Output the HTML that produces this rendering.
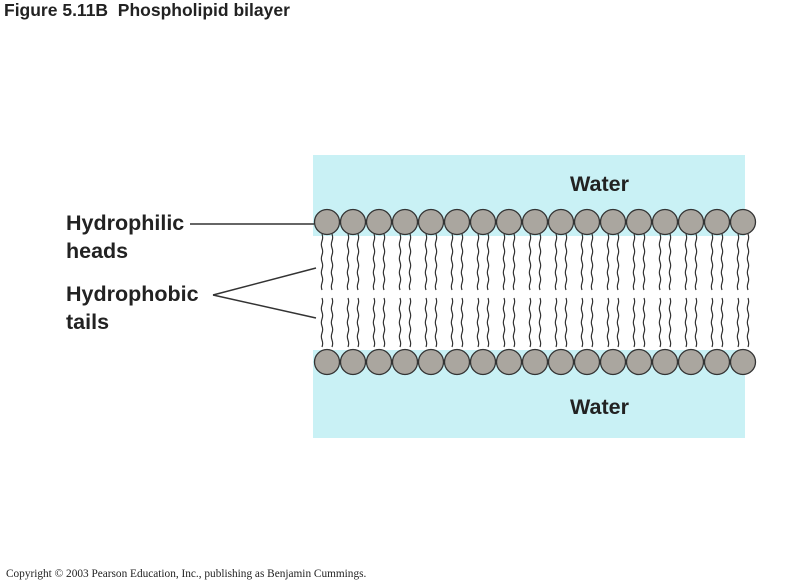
<!DOCTYPE html>
<html><head><meta charset="utf-8"><style>
html,body{margin:0;padding:0;background:#fff;}
body{width:800px;height:584px;position:relative;overflow:hidden;font-family:"Liberation Sans",Arial,sans-serif;}
.t{position:absolute;font-weight:bold;color:#222;white-space:nowrap;}
</style></head><body>
<div class="t" style="left:4px;top:0px;font-size:17.5px;">Figure 5.11B&nbsp; Phospholipid bilayer</div>
<svg id="s" width="800" height="584" style="position:absolute;left:0;top:0">
<rect x="313" y="155" width="432" height="283" fill="#c9f1f5"/>
<rect x="313" y="236" width="450" height="114" fill="#fff"/>
<line x1="190" y1="224" x2="314" y2="224" stroke="#333" stroke-width="1.5"/>
<line x1="213" y1="295" x2="316" y2="268" stroke="#333" stroke-width="1.5"/>
<line x1="213" y1="295" x2="316" y2="318" stroke="#333" stroke-width="1.5"/>
<g id="g"></g>
<text x="570" y="191" font-family="Liberation Sans,Arial,sans-serif" font-weight="bold" font-size="21.5" fill="#222">Water</text>
<text x="570" y="414" font-family="Liberation Sans,Arial,sans-serif" font-weight="bold" font-size="21.5" fill="#222">Water</text>
</svg>
<div class="t" style="left:66px;top:209px;font-size:21.5px;line-height:28px;">Hydrophilic<br>heads</div>
<div class="t" style="left:66px;top:280px;font-size:21.5px;line-height:28px;">Hydrophobic<br>tails</div>
<div style="position:absolute;left:6px;top:568px;font-family:'Liberation Serif',serif;font-size:11.3px;color:#222;">Copyright © 2003 Pearson Education, Inc., publishing as Benjamin Cummings.</div>
<script>
var g=document.getElementById('g'),h='';
function wave(x,y1,y2){var d='M'+x+' '+y1,s=1;for(var y=y1+7;y<=y2;y+=7){d+=' Q'+(x+1.3*s)+' '+(y-3.5)+' '+x+' '+y;s=-s;}return '<path d="'+d+'" fill="none" stroke="#333" stroke-width="1.2"/>';}
for(var i=0;i<17;i++){var x=327+i*26;
h+=wave(x-5,234,291)+wave(x+5,234,291)+wave(x-5,298,352)+wave(x+5,298,352);}
for(var i=0;i<17;i++){var x=327+i*26;
h+='<circle cx="'+x+'" cy="222" r="12.5" fill="#aaa69f" stroke="#333" stroke-width="1.3"/>';
h+='<circle cx="'+x+'" cy="362" r="12.5" fill="#aaa69f" stroke="#333" stroke-width="1.3"/>';}
g.innerHTML=h;
</script>
</body></html>
